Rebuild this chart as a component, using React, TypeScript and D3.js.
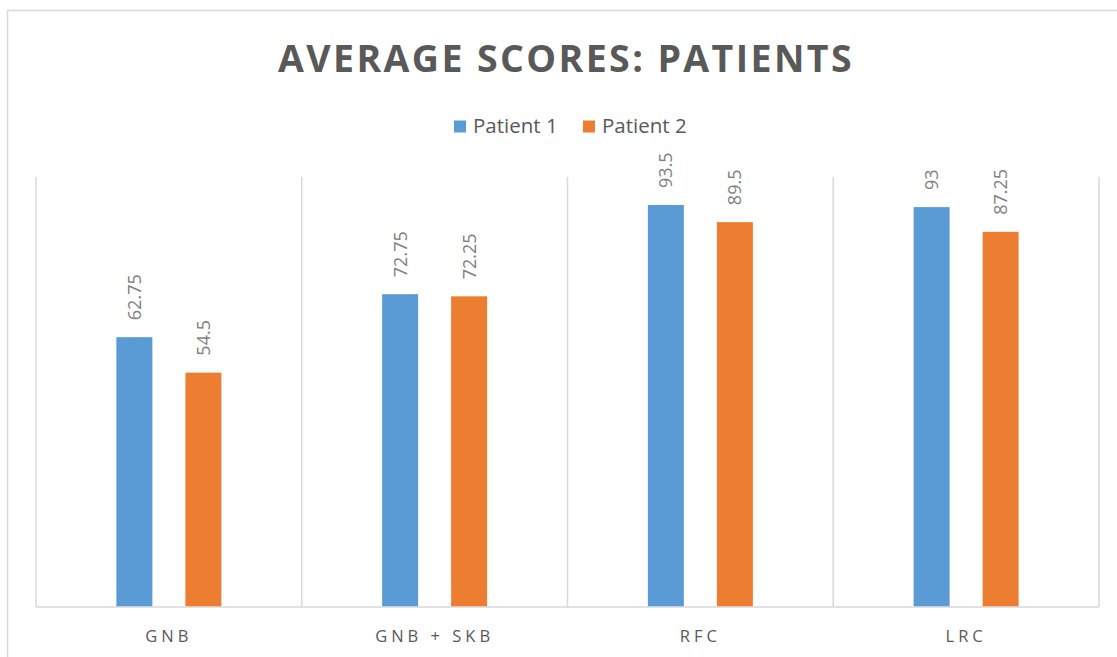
import React from "react";
import * as d3 from "d3";

const categories = ["GNB", "GNB + SKB", "RFC", "LRC"];
const seriesNames = ["Patient 1", "Patient 2"];
const patient1 = [62.75, 72.75, 93.5, 93];
const patient2 = [54.5, 72.25, 89.5, 87.25];
const yDomain = [0, 100];

const colors = ["#5b9bd5", "#ed7d31"];
const FONT = "'Open Sans', 'Liberation Sans', sans-serif";

export default function App() {
  const W = 1117;
  const H = 657;
  const plot = { left: 36, right: 1099, top: 177, bottom: 607 };

  const x = d3
    .scaleBand<string>()
    .domain(categories)
    .range([plot.left, plot.right])
    .paddingInner(0)
    .paddingOuter(0);
  const y = d3.scaleLinear().domain(yDomain).range([plot.bottom, plot.top]);

  const barW = 36;
  const offsets = [-34.5, 34.5];
  const series = [patient1, patient2];

  const separators = d3.range(categories.length + 1).map((i) =>
    i < categories.length ? (x(categories[i]) as number) : plot.right
  );

  return (
    <svg
      width={W}
      height={H}
      style={{ position: "absolute", left: 0, top: 0, background: "#fff" }}
    >
      <rect x={7.5} y={10.5} width={W + 20} height={H + 20} fill="#fff" stroke="#d9d9d9" strokeWidth={1.5} />

      <text
        x={566}
        y={72}
        textAnchor="middle"
        fontFamily={FONT}
        fontWeight={700}
        fontSize={37.5}
        letterSpacing={2.4}
        fill="#595959"
      >
        AVERAGE SCORES: PATIENTS
      </text>

      {/* legend */}
      <g fontFamily={FONT} fontSize={20.5} fill="#595959">
        {seriesNames.map((name, i) => {
          const lx = 454 + i * 129;
          return (
            <g key={name}>
              <rect x={lx} y={120.5} width={12} height={12} fill={colors[i]} />
              <text x={lx + 19} y={133}>{name}</text>
            </g>
          );
        })}
      </g>

      {/* category separators */}
      {separators.map((sx, i) => (
        <line key={i} x1={sx} x2={sx} y1={plot.top} y2={plot.bottom} stroke="#d9d9d9" strokeWidth={1.5} />
      ))}
      <line x1={plot.left} x2={plot.right} y1={plot.bottom} y2={plot.bottom} stroke="#d9d9d9" strokeWidth={1.5} />

      {/* bars and value labels */}
      {categories.map((c, ci) => {
        const cx = (x(c) as number) + x.bandwidth() / 2;
        return series.map((vals, si) => {
          const bx = cx + offsets[si];
          const v = vals[ci];
          const top = y(v);
          return (
            <g key={c + si}>
              <rect x={bx - barW / 2} y={top} width={barW} height={plot.bottom - top - 0.75} fill={colors[si]} />
              <text
                transform={`translate(${bx + 6.5},${top - 17}) rotate(-90)`}
                fontFamily={FONT}
                fontSize={18}
                fill="#7f7f7f"
              >
                {v}
              </text>
            </g>
          );
        });
      })}

      {/* category labels */}
      {categories.map((c) => (
        <text
          key={c}
          x={(x(c) as number) + x.bandwidth() / 2}
          y={642}
          textAnchor="middle"
          fontFamily={FONT}
          fontSize={16.5}
          letterSpacing={4}
          fill="#595959"
        >
          {c}
        </text>
      ))}
    </svg>
  );
}
